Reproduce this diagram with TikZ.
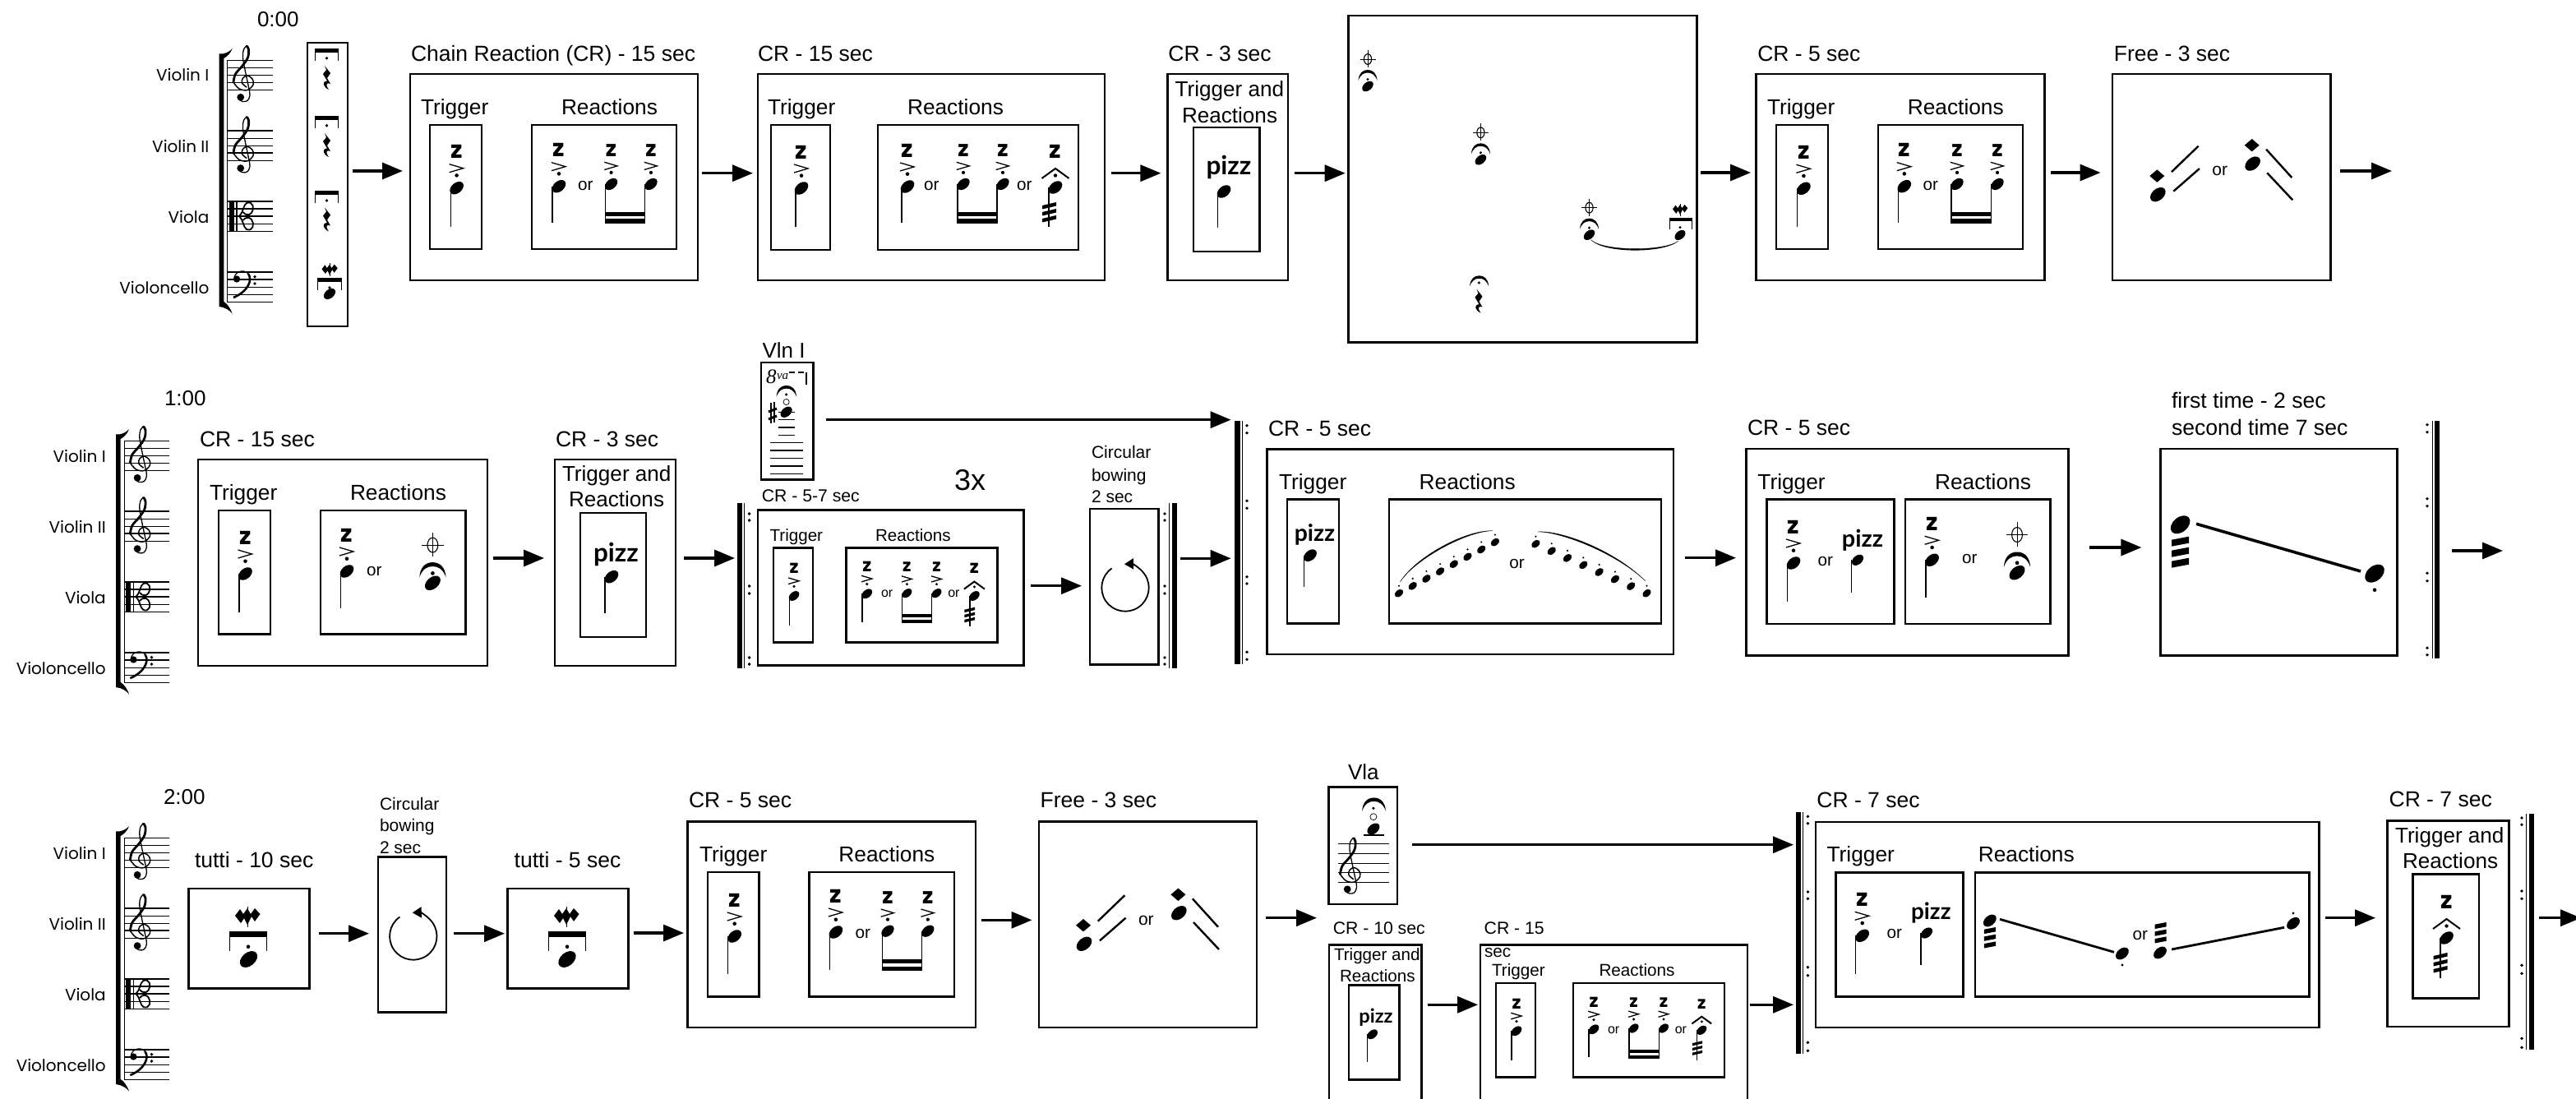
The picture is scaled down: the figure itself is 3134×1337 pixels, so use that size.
\documentclass[tikz,border=0pt]{standalone}
\usepackage{fontspec}
\setmainfont{Liberation Sans}
\newfontfamily\popf{Poppins}
\newfontfamily\popm{Lato}
\newfontfamily\serf{Liberation Serif}
\usetikzlibrary{arrows.meta}
\newcounter{gc}
\tikzset{
  bxs/.style={draw=black,line width=2.8pt,inner sep=0pt,outer sep=0pt,anchor=north west},
  arr/.style={draw=black,line width=3.2pt,-{Triangle[length=25pt,width=20pt]}},
  lblst/.style={anchor=base west,inner sep=0pt,outer sep=0pt,text=black},
  zfnt/.style={inner sep=0pt,outer sep=0pt,font=\popf\fontsize{29}{29}\selectfont\bfseries},
  stemln/.style={line width=1.2pt},
  accln/.style={line width=1.3pt},
  staffln/.style={line width=1.2pt},
  thinln/.style={line width=.8pt},
  freeln/.style={line width=2.4pt},
  gliss/.style={line width=3.6pt}
}
% text label: x, baseline y, size, text
\newcommand\mLbl[4]{\stepcounter{gc}\node[lblst,font=\fontsize{#3}{#3}\selectfont] (t\arabic{gc}) at (#1,#2) {#4};}
\newcommand\mOr[3]{\mLbl{#1}{#2}{#3}{or}}
% box: name x1 y1 x2 y2
\newcommand\mBx[5]{\pgfmathsetmacro{\mybw}{#4-#2}\pgfmathsetmacro{\mybh}{#5-#3}%
  \node[bxs,minimum width=\mybw pt,minimum height=\mybh pt] (#1) at (#2,#3) {};}
% connector: a b y gap1 gap2
\newcommand\mConn[5]{\draw[arr,shorten <=#4pt,shorten >=#5pt] (#1.east |- 0,#3) -- (#2.west |- 0,#3);}
% note head
\newcommand\mHd[3]{\fill[rotate around={40:(#1,#2)}] (#1,#2) ellipse [x radius=9.5*#3, y radius=6.3*#3];}
% dot accent z
\newcommand\mZac[3]{\begin{scope}[shift={(#1,#2)},scale=#3]
  \fill (0,-15.3) circle (2.3);
  \draw[accln] (-9,-29)--(8,-24)--(-9,-19);
  \stepcounter{gc}\node[zfnt,transform shape] (g\arabic{gc}) at (0,-44) {z};
\end{scope}}
% head + z (no stem): x y s
\newcommand\mZh[3]{\mHd{#1}{#2}{#3}\mZac{#1}{#2}{#3}}
% with stem: x y s stemx endy
\newcommand\mZn[5]{\mZh{#1}{#2}{#3}\draw[stemln] (#4,#2) -- (#4,#5);}
% pizz note: x y s stemx endy textcx base size
\newcommand\mPz[8]{\mHd{#1}{#2}{#3}\draw[stemln] (#4,#2) -- (#4,#5);
  \stepcounter{gc}\node[anchor=base,inner sep=0pt,scale=1.05,font=\popm\fontsize{#8}{#8}\selectfont\bfseries] (p\arabic{gc}) at (#6,#7) {pizz};}
% beams: x1 x2 y1 y2
\newcommand\mBeam[4]{\pgfmathsetmacro{\myha}{#3+(#4-#3)*.4}\pgfmathsetmacro{\myhb}{#3+(#4-#3)*.62}%
  \fill (#1-.6,#3) rectangle (#2+.6,\myha); \fill (#1-.6,\myhb) rectangle (#2+.6,#4);}
% fermata: cx bottom y s
\newcommand\mFerm[3]{\begin{scope}[shift={(#1,#2)},scale=#3]
  \fill (-11.5,0) .. controls (-11,-9) and (-6,-13) .. (0,-13) .. controls (6,-13) and (11,-9) .. (11.5,0)
     .. controls (9,-7) and (5,-9.5) .. (0,-9.5) .. controls (-5,-9.5) and (-9,-7) .. (-11.5,0) -- cycle;
\end{scope}}
% phi note: x y s
\newcommand\mPhi[3]{\begin{scope}[shift={(#1,#2)},scale=#3]
  \fill[rotate=40] (0,0) ellipse [x radius=7.8, y radius=5];
  \fill (0,-8.5) circle (1.7);
  \draw[line width=1.1pt] (0,-33) ellipse [x radius=4.6, y radius=6.4];
  \draw[thinln] (0,-44) -- (0,-23) (-9.5,-33) -- (9.5,-33);
\end{scope}\mFerm{#1}{#2-7}{#3}}
% tremolo note with roof accent: x y s stemx endy
\newcommand\mTr[5]{\mHd{#1}{#2}{#3}\draw[stemln] (#4,#2) -- (#4,#5);
  \begin{scope}[shift={(#1,#2)},scale=#3]
  \fill (0,-14.5) circle (2.2);
  \draw[line width=2pt] (-16.5,-11) -- (0,-23) -- (16.5,-11);
  \stepcounter{gc}\node[zfnt,transform shape] (g\arabic{gc}) at (0,-44) {z};
  \foreach \myv in {18,26,34}{\fill (-16,\myv+4) -- (1,\myv) -- (1,\myv+4.5) -- (-16,\myv+8.5) -- cycle;}
  \end{scope}}
% three thick slashes: cx top s
\newcommand\mSlash[3]{\begin{scope}[shift={(#1,#2)},scale=#3]
  \foreach \myv in {0,13,26}{\fill (-10.5,\myv+4) -- (10.5,\myv) -- (10.5,\myv+8) -- (-10.5,\myv+12) -- cycle;}
\end{scope}}
% bar with legs: cx top s
\newcommand\mBar[3]{\begin{scope}[shift={(#1,#2)},scale=#3]
  \fill (-22.5,0) rectangle (22.5,7.3);
  \draw[line width=.9pt] (-22.5,0) -- (-22.5,24) (22.5,0) -- (22.5,24);
\end{scope}}
% jagged sign: cx cy s
\newcommand\mJag[3]{\begin{scope}[shift={(#1,#2)},scale=#3]
  \fill (-15,-1) -- (-9,-9) -- (-5,-3) -- (0,-10) -- (4,-3) -- (9,-10) -- (15.5,-3) -- (9,6) -- (5,0) -- (0,10) -- (-4,2) -- (-8,8) -- cycle;
  \draw[thinln] (0,-12) -- (0,13);
\end{scope}}
% rest: cx top
\newcommand\mRest[2]{\begin{scope}[shift={(#1,#2)}]
  \fill (-2,0) -- (5,9) -- (1,15) -- (5,22) .. controls (1,20) and (-2,22) .. (3,29)
     .. controls (-4,26) and (-6,19) .. (1,18.5) -- (-4,10) -- (0,5) -- cycle;
\end{scope}}
% slur
\newcommand\mSlur[8]{\fill (#1,#2) .. controls (#3,#4) and (#5,#6) .. (#7,#8) .. controls (#5,#6+2.6) and (#3,#4+2.6) .. (#1,#2) -- cycle;
  \draw[line width=.4pt] (#1,#2) .. controls (#3,#4) and (#5,#6) .. (#7,#8);}
% circular bowing: cx cy
\newcommand\mCirc[2]{\draw[line width=1.8pt,-{Triangle[length=11pt,width=13pt]}] ([shift={(125:28.7pt)}]#1,#2) arc [start angle=125,end angle=452,radius=28.7pt];}
% repeat bars: name thickx1 thickx2 y1 y2
\newcommand\mRb[5]{\pgfmathsetmacro{\mybw}{#3-#2}\pgfmathsetmacro{\mybh}{#5-#4}%
  \node[fill=black,inner sep=0pt,outer sep=0pt,anchor=north west,minimum width=\mybw pt,minimum height=\mybh pt] (#1) at (#2,#4) {};}
\newcommand\mThin[3]{\draw[line width=1.2pt] (#1,#2) -- (#1,#3);}
\newcommand\mDots[2]{\foreach \myv in {#2}{\fill (#1,\myv) circle (1.9);}}
% treble clef in row-1 coordinates, shifted
\newcommand\mTreb[2]{\begin{scope}[shift={(#1+130,#2+50)}]
  \draw[line width=1.5pt,line cap=round] plot[smooth,tension=.6] coordinates {(170,56)(164.5,51)(165.5,45)(171,42)(177,46)(178,53)(171,59.5)(161,58)(154,50)};
  \draw[line width=2.8pt,line cap=round] plot[smooth,tension=.6] coordinates {(154,50)(156.5,40)(165,30)(171.5,20)(172.5,10)(170,6)};
  \draw[line width=1.3pt,line cap=round] plot[smooth,tension=.6] coordinates {(170,6)(166.5,10)(165.5,20)(168.5,37)(172.5,56)(174,66)(171,72.5)(165,73.5)(161,71)};
  \fill (162.7,68.3) circle (4.4);
\end{scope}}
\newcommand\mStaff[4]{\foreach \myv in {#3}{\draw[staffln] (#1,\myv) -- (#2,\myv);}}
% whole system: dx dy
\newcommand\mSys[2]{\begin{scope}[shift={(#1,#2)}]
  \fill (266.7,65.5) .. controls (274,66) and (279,63) .. (282.7,59) .. controls (280.5,65) and (276,69) .. (272.3,71)
     -- (272.3,367) .. controls (276,369) and (280.5,375) .. (282.7,381.7) .. controls (279,377) and (274,374) .. (266.7,373) -- cycle;
  \draw[staffln] (276.7,73) -- (276.7,368);
  \mStaff{276.7}{332}{73.3,82.7,91.7,100.7,109.3}{}
  \mStaff{276.7}{332}{159,168.3,177.3,186,195.3}{}
  \mStaff{276.7}{332}{245,254,263,272.7,281.7}{}
  \mStaff{276.7}{332}{331,340,349.3,358.3,367.7}{}
  \mTreb{0}{0}
  \mTreb{0}{86.3}
  % alto clef
  \fill (278.5,245) rectangle (284.5,281.7);
  \draw[line width=1.4pt] (288,245) -- (288,281.7);
  \draw[line width=1.8pt] (291,263) .. controls (296,259) and (296,249) .. (300,247) .. controls (308,244) and (310,254) .. (306,259) .. controls (303,263) and (297,261) .. (296,258);
  \draw[line width=1.8pt] (291,263) .. controls (296,267) and (296,277) .. (300,279) .. controls (308,282) and (310,272) .. (306,267) .. controls (303,263) and (297,265) .. (296,268);
  % bass clef
  \fill (288,339.5) circle (4.2);
  \draw[line width=1.2pt] (285,339) .. controls (285,330) and (297,327) .. (302,333);
  \draw[line width=2.6pt] (302,333) .. controls (308,341) and (301,355) .. (284,362);
  \fill (310,336.7) circle (1.9) (310,345) circle (1.9);
  \stepcounter{gc}\node[anchor=base east,inner sep=0pt,font=\popf\fontsize{20}{20}\selectfont] (s\arabic{gc}) at (254.5,99) {Violin I};
  \stepcounter{gc}\node[anchor=base east,inner sep=0pt,font=\popf\fontsize{20}{20}\selectfont] (s\arabic{gc}) at (254.5,185.7) {Violin II};
  \stepcounter{gc}\node[anchor=base east,inner sep=0pt,font=\popf\fontsize{20}{20}\selectfont] (s\arabic{gc}) at (254.5,271.7) {Viola};
  \stepcounter{gc}\node[anchor=base east,inner sep=0pt,font=\popf\fontsize{20}{20}\selectfont] (s\arabic{gc}) at (254.5,357.7) {Violoncello};
\end{scope}}
% Free group, coordinates of row 3
\newcommand\mFree[2]{\begin{scope}[shift={(#1,#2)}]
  \mHd{1319}{1148.3}{1.12}
  \fill (1309,1125.7) -- (1318,1118) -- (1327,1125.7) -- (1318,1133.4) -- cycle;
  \draw[freeln] (1335.7,1120.7) -- (1368.3,1089.3);
  \draw[freeln] (1338,1144.3) -- (1369.6,1116.7);
  \mOr{1385}{1125}{21}
  \mHd{1434.3}{1110.7}{1.12}
  \fill (1424.4,1088.3) -- (1433.4,1080.6) -- (1442.4,1088.3) -- (1433.4,1096) -- cycle;
  \draw[freeln] (1450.8,1093.3) -- (1482,1127.7);
  \draw[freeln] (1452,1122) -- (1483,1155);
\end{scope}}
\begin{document}
\begin{tikzpicture}[x=1pt,y=-1pt]
\useasboundingbox (0,0) rectangle (3134,1337);
\clip (0,0) rectangle (3134,1337);
\fill[white] (0,0) rectangle (3134,1337);
%% ROW 1
\mSys{0}{0}
\mLbl{313}{33}{26}{0:00}
\mBx{strip}{374}{52}{423}{397}
\mBar{397.5}{59}{.63}\fill (397.5,70.7) circle (1.9); \mRest{397}{80}
\mBar{397.5}{141.3}{.63}\fill (397.5,152.7) circle (1.9); \mRest{397}{162}
\mBar{397.5}{232.3}{.63}\fill (397.5,244) circle (1.9); \mRest{397}{252.5}
\mJag{401}{328}{.63}\mBar{401}{338}{.63}\fill (401,350) circle (1.9); \mHd{401}{357.5}{.85}
\mBx{crA}{499}{90}{849}{341}
\mBx{crAt}{523}{152}{586}{303}
\mBx{crAr}{647}{152}{823}{303}
\mLbl{500}{75}{26.5}{Chain Reaction (CR) - 15 sec}
\mLbl{512}{139.5}{26.3}{Trigger}
\mLbl{683}{139.5}{26.3}{Reactions}
\mZn{555.6}{228.7}{1}{548.8}{276}
\mZn{680}{226.7}{1}{672}{271}
\mOr{703}{231.7}{20.7}
\mZn{743.6}{224}{.92}{736.5}{271.7}
\mZn{792}{224}{.92}{784.4}{271.7}
\mBeam{736.5}{784.4}{257.7}{271.7}
\mBx{crB}{922}{90}{1344}{341}
\mBx{crBt}{938}{152}{1010}{304}
\mBx{crBr}{1068}{152}{1312}{304}
\mLbl{922}{75}{26.5}{CR - 15 sec}
\mLbl{934}{139.5}{26.3}{Trigger}
\mLbl{1104}{139.5}{26.3}{Reactions}
\mZn{975}{229}{1}{968}{276}
\mZn{1104}{227}{1}{1097}{271}
\mOr{1124}{232}{20.7}
\mZn{1172}{224}{.92}{1165}{271.7}
\mZn{1220}{224}{.92}{1213}{271.7}
\mBeam{1165}{1213}{257.7}{271.7}
\mOr{1237}{232}{20.7}
\mTr{1284}{228}{1}{1276}{276}
\mBx{crC}{1420.4}{90}{1567}{341}
\mBx{crCi}{1452}{155}{1532.6}{306}
\mLbl{1421.4}{75}{26.5}{CR - 3 sec}
\mLbl{1429.6}{118}{26.1}{Trigger and}
\mLbl{1438}{150}{26.1}{Reactions}
\mPz{1489}{233}{1}{1481.6}{277}{1495}{213}{30}
\mBx{big}{1640.7}{19}{2064.5}{416.7}
\mPhi{1664}{105}{1}
\mPhi{1801.4}{194.3}{1}
\mPhi{1933.5}{285.7}{1}
\mJag{2044}{255}{.6}\mBar{2044.5}{265}{.6}\fill (2044,276.7) circle (1.7); \mHd{2044}{286}{.78}
\mSlur{1935.5}{291.7}{1950}{306}{2025}{306}{2041.6}{293.3}
\mFerm{1799.6}{348.3}{1}\fill (1799.3,344) circle (1.7); \mRest{1798.5}{351.7}
\mBx{crD}{2136.7}{90}{2487.6}{341}
\mBx{crDt}{2161}{152}{2224}{303}
\mBx{crDr}{2285}{152}{2461}{303}
\mLbl{2138.3}{75}{26.5}{CR - 5 sec}
\mLbl{2150}{139.5}{26.3}{Trigger}
\mLbl{2320.8}{139.5}{26.3}{Reactions}
\mZn{2194.4}{229.3}{1}{2186.7}{276}
\mZn{2316.8}{226.7}{1}{2309.6}{271}
\mOr{2339.7}{231.7}{20.7}
\mZn{2381}{224}{.92}{2373.9}{271.7}
\mZn{2430}{224}{.92}{2422.3}{271.7}
\mBeam{2373.9}{2422.3}{257.7}{271.7}
\mBx{freeA}{2570}{90}{2835.4}{341}
\mLbl{2571.8}{75}{26.5}{Free - 3 sec}
\mFree{1306.3}{-911.6}
\coordinate (endA) at (2910,208);
\mConn{strip}{crA}{208}{6}{9}
\mConn{crA}{crB}{210.7}{5}{6}
\mConn{crB}{crC}{210.7}{8}{8}
\mConn{crC}{big}{210.7}{8}{4}
\mConn{big}{crD}{210}{4.5}{6.7}
\mConn{crD}{freeA}{210}{7.4}{14.5}
\draw[arr,shorten <=11.6pt] (freeA.east |- endA) -- (endA);
%% ROW 2
\mSys{-125.6}{463}
\mLbl{200}{493}{26}{1:00}
\mBx{rtA}{241}{559}{593}{810}
\mBx{rtAt}{266}{621}{329}{771.7}
\mBx{rtAr}{390}{621}{566.5}{771.7}
\mLbl{243}{543}{26.5}{CR - 15 sec}
\mLbl{255}{608}{26.3}{Trigger}
\mLbl{426}{608}{26.3}{Reactions}
\mZn{298.5}{698}{1}{291}{745}
\mZn{422}{695}{1}{414.4}{740}
\mOr{446}{700}{20.7}
\mPhi{526.4}{709.3}{1.4}
\mBx{rtB}{675}{559}{822}{810}
\mBx{rtBi}{706}{624}{786}{775}
\mLbl{676}{543}{26.5}{CR - 3 sec}
\mLbl{684}{585}{26.1}{Trigger and}
\mLbl{692}{616.7}{26.1}{Reactions}
\mPz{744}{701.7}{1}{736}{746}{749.5}{683}{30}
\mRb{barA}{897}{903}{612}{813}
\mThin{905.5}{612}{813}
\mDots{911.6}{625,633,713,722,800,808}
\mBx{vln}{925.9}{441}{989.2}{583.3}
\mLbl{927.6}{435}{26}{Vln I}
\stepcounter{gc}\node[lblst,font=\serf\fontsize{25}{25}\selectfont\itshape] (v\arabic{gc}) at (932,466.7) {8};
\stepcounter{gc}\node[lblst,font=\serf\fontsize{15}{15}\selectfont\itshape] (v\arabic{gc}) at (945,461) {va};
\draw[line width=2pt] (960,453) -- (966.5,453) (971,453) -- (977.5,453);
\draw[line width=1.6pt] (981,453) -- (981,467.7);
\mFerm{956.8}{482.7}{1.06}\fill (956.6,480) circle (1.7);
\draw[line width=.7pt] (956.6,489) circle (3.6);
\mHd{956.6}{501.3}{.85}
\draw[line width=1.4pt] (938,490) -- (938,515) (941.8,489) -- (941.8,514);
\draw[line width=3pt] (935,501) -- (945,497) (935,510) -- (945,506);
\draw[staffln] (947,501.3) -- (967,501.3);
\mStaff{946.8}{966.9}{510.7,520,529.3}{}
\mStaff{936.6}{976.7}{538.3,548,557.7,567,576.7}{}
\mBx{rtC}{922}{620.7}{1245.6}{809.3}
\mBx{rtCt}{941}{666.7}{989}{781.7}
\mBx{rtCr}{1029.8}{666.7}{1213.5}{781.7}
\mLbl{926.8}{610}{21.2}{CR - 5-7 sec}
\mLbl{1161}{596.7}{36}{3x}
\mLbl{936.6}{658.3}{20.6}{Trigger}
\mLbl{1065}{658.3}{20.6}{Reactions}
\mZn{966}{725}{.76}{960.2}{760.7}
\mZn{1054.8}{722.3}{.76}{1049}{757}
\mOr{1072}{726.7}{16}
\mZn{1103.4}{721.7}{.72}{1097.6}{757.7}
\mZn{1139.5}{721.7}{.72}{1133.7}{757.7}
\mBeam{1097.6}{1133.7}{747}{757.7}
\mOr{1153.3}{726.7}{16}
\mTr{1185.4}{725}{.76}{1180}{761.7}
\mBx{rtD}{1326}{619}{1409.3}{808.3}
\mLbl{1328}{557.3}{21}{Circular}
\mLbl{1328}{585}{21}{bowing}
\mLbl{1328}{611.7}{21}{2 sec}
\mCirc{1369}{715}
\mThin{1422.7}{612}{813}
\mRb{barB}{1426}{1432}{612}{813}
\mDots{1417}{625,633,713,722,800,808}
\mRb{barC}{1502}{1509}{512}{807.7}
\mThin{1511.5}{512}{807.7}
\mDots{1517}{517.7,526.7,609.3,618.3,701.7,710,793.3,802.3}
\mBx{rtE}{1541.8}{546.7}{2036}{796}
\mBx{rtEt}{1566}{607.7}{1629}{758.3}
\mBx{rtEr}{1690}{607.7}{2021}{758.3}
\mLbl{1543}{530}{26.5}{CR - 5 sec}
\mLbl{1556}{595}{26.3}{Trigger}
\mLbl{1726.7}{595}{26.3}{Reactions}
\mPz{1594}{675.7}{.95}{1586.8}{714}{1599.5}{658}{27}
\foreach \myi in {0,...,7}{
  \pgfmathsetmacro{\myx}{1702+16.7*\myi}\pgfmathsetmacro{\myy}{721.7-8.87*\myi}
  \mHd{\myx}{\myy}{.62}\fill (\myx,\myy-9) circle (1.2);
  \pgfmathsetmacro{\myx}{1868.4+19.3*\myi}\pgfmathsetmacro{\myy}{661.7+8.57*\myi}
  \mHd{\myx}{\myy}{.62}\fill (\myx,\myy-9) circle (1.2);
}
\mSlur{1703.5}{708}{1720}{680}{1780}{645}{1816}{645.7}
\mOr{1836.3}{691}{20.7}
\mSlur{1871}{647}{1900}{645}{1965}{670}{2001.6}{706.7}
\mBx{rtF}{2124.6}{546}{2516.4}{797.3}
\mBx{rtFt}{2149.5}{607.3}{2304.3}{759}
\mBx{rtFr}{2318}{607.3}{2494.3}{759}
\mLbl{2126}{529}{26.5}{CR - 5 sec}
\mLbl{2138.4}{595}{26.3}{Trigger}
\mLbl{2354}{595}{26.3}{Reactions}
\mZn{2182}{685}{1}{2174.4}{731.7}
\mOr{2211.7}{688}{20.7}
\mPz{2260}{681.3}{.85}{2252.5}{720.7}{2266}{665}{27.5}
\mZn{2350.6}{681.3}{1}{2343}{727.3}
\mOr{2387}{685}{20.7}
\mPhi{2454}{696.7}{1.4}
\mBx{rtG}{2628.4}{546}{2916.5}{797.3}
\mLbl{2642}{496.7}{26.6}{first time - 2 sec}
\mLbl{2642}{529}{26.6}{second time 7 sec}
\mHd{2652.6}{638.3}{1.42}
\mSlash{2652.6}{652.7}{1}
\draw[gliss] (2672,637.3) -- (2872,695);
\mHd{2889}{697.7}{1.42}
\fill (2889,717.7) circle (2.3);
\mDots{2953}{516.7,525.7,606.7,615.7,697.3,706.7,788.3,796.7}
\mThin{2959.4}{512.3}{800.7}
\mRb{barD}{2962}{2968}{512.3}{800.7}
\coordinate (endB) at (3045,670);
\mConn{rtA}{rtB}{679}{7}{13}
\mConn{rtB}{barA}{679}{10}{3}
\mConn{rtC}{rtD}{712.7}{8}{10}
\mConn{barB}{barC}{679.3}{4.4}{4.4}
\mConn{vln}{barC}{510.7}{15.6}{4.4}
\mConn{rtE}{rtF}{678.7}{14}{12.6}
\mConn{rtF}{rtG}{666}{26}{23}
\draw[arr,shorten <=15pt] (barD.east |- endB) -- (endB);
%% ROW 3
\mSys{-125.6}{946}
\mLbl{199}{978}{26}{2:00}
\mBx{thA}{229.6}{1081}{376.5}{1202.7}
\mLbl{237}{1055}{26.5}{tutti - 10 sec}
\mJag{301}{1115}{1}\mBar{302}{1132.7}{1}\fill (302,1151.7) circle (2.3); \mHd{302.5}{1167}{1.28}
\mBx{thB}{460}{1042.7}{543}{1231.7}
\mLbl{462}{985}{21}{Circular}
\mLbl{462}{1011.7}{21}{bowing}
\mLbl{462}{1038}{21}{2 sec}
\mCirc{502.8}{1139}
\mBx{thC}{617.6}{1081}{764.6}{1202.7}
\mLbl{625.7}{1055}{26.5}{tutti - 5 sec}
\mJag{689}{1115}{1}\mBar{690}{1132.7}{1}\fill (690,1151.7) circle (2.3); \mHd{690}{1167}{1.28}
\mBx{thD}{836.3}{999.3}{1187}{1250}
\mBx{thDt}{861}{1061}{923.6}{1212.3}
\mBx{thDr}{984.3}{1061}{1161}{1212.3}
\mLbl{838}{982.7}{26.5}{CR - 5 sec}
\mLbl{851}{1048.3}{26.3}{Trigger}
\mLbl{1020.4}{1048.3}{26.3}{Reactions}
\mZn{893.7}{1139}{1}{885.7}{1185}
\mZn{1016.9}{1134}{1}{1009.7}{1180}
\mOr{1040.5}{1141}{20.7}
\mZn{1080}{1132.7}{.92}{1073.5}{1181}
\mZn{1128.8}{1132.7}{.92}{1121.7}{1181}
\mBeam{1073.5}{1121.7}{1166.7}{1181}
\mBx{thE}{1264}{999.3}{1528.9}{1250}
\mLbl{1265.7}{982.7}{26.5}{Free - 3 sec}
\mFree{0}{0}
\coordinate (endC) at (1602,1116.7);
\mBx{vla}{1616.5}{957.7}{1700}{1100}
\mLbl{1640}{948.3}{26}{Vla}
\mFerm{1671.5}{986.7}{1.25}\fill (1670.9,983.3) circle (1.8);
\draw[line width=.7pt] (1670.9,993.7) circle (4);
\mHd{1670.9}{1008.5}{.9}
\draw[line width=1.8pt] (1658.6,1015.7) -- (1684,1015.7);
\mStaff{1627.6}{1690}{1026.7,1038.7,1050.3,1061.7,1073.7}{}
\mTreb{1346.5}{963.5}
\mBx{thF}{1617}{1149.3}{1729.5}{1360}
\mBx{thFi}{1641}{1198.3}{1702.6}{1313.3}
\mLbl{1621.8}{1136.7}{21.2}{CR - 10 sec}
\mLbl{1623}{1168.3}{20.6}{Trigger and}
\mLbl{1630}{1194}{20.6}{Reactions}
\mPz{1669.7}{1258.3}{.76}{1663.6}{1291.7}{1674}{1244}{22.5}
\mBx{thG}{1801}{1149.3}{2125.9}{1360}
\mBx{thGt}{1820}{1196}{1868}{1310.7}
\mBx{thGr}{1914}{1196}{2098}{1310.7}
\mLbl{1805.7}{1136.7}{21.2}{CR - 15}
\mLbl{1806}{1164.3}{20.7}{sec}
\mLbl{1815}{1187.7}{20.7}{Trigger}
\mLbl{1945.5}{1187.7}{20.7}{Reactions}
\mZn{1845}{1254.3}{.76}{1839}{1290}
\mZn{1939}{1252.3}{.76}{1933}{1286}
\mOr{1956}{1257.3}{16}
\mZn{1987.6}{1251}{.72}{1981.9}{1287.7}
\mZn{2024}{1251}{.72}{2018.6}{1287.7}
\mBeam{1981.9}{2018.6}{1276.7}{1287.7}
\mOr{2037.8}{1257.3}{16}
\mTr{2070.3}{1253.3}{.72}{2064.6}{1290}
\mRb{barE}{2185}{2190.5}{988.3}{1282.3}
\mThin{2193.6}{988.3}{1282.3}
\mDots{2199.4}{993.3,1001.7,1085,1093.3,1176.7,1186.7,1268.3,1278.3}
\mBx{thH}{2209}{1000}{2821.6}{1250}
\mBx{thHt}{2233.5}{1061.7}{2388.5}{1212.3}
\mBx{thHr}{2403}{1061.7}{2809.3}{1212.3}
\mLbl{2210.4}{982.7}{26.5}{CR - 7 sec}
\mLbl{2222.6}{1048.3}{26.3}{Trigger}
\mLbl{2406.8}{1048.3}{26.3}{Reactions}
\mZn{2265.7}{1138.3}{1}{2257.8}{1185}
\mOr{2295.5}{1141}{20.7}
\mPz{2344}{1135}{.85}{2336.9}{1174}{2349.3}{1118.3}{26.5}
\mHd{2420.8}{1120}{.95}
\mSlash{2421}{1128}{.67}
\draw[line width=2.8pt] (2433,1118.3) -- (2572,1158.3);
\mHd{2581.9}{1160}{.95}\fill (2582,1174) circle (1.7);
\mOr{2594.7}{1143.3}{20.7}
\mHd{2628}{1159}{.95}
\mSlash{2628.5}{1122}{.67}
\draw[line width=2.8pt] (2642,1155) -- (2779,1128.3);
\mHd{2790}{1123.3}{.95}\fill (2790,1111) circle (1.7);
\mBx{thI}{2904.7}{998.3}{3052.5}{1249}
\mBx{thIi}{2935.7}{1063.3}{3016}{1214.3}
\mLbl{2906.6}{981.7}{26.5}{CR - 7 sec}
\mLbl{2914}{1025}{26.1}{Trigger and}
\mLbl{2923}{1056.7}{26.1}{Reactions}
\mTr{2976.5}{1141}{1}{2969}{1190}
\mDots{3068}{995,1003.3,1084,1093.3,1174.3,1184.3,1263.3,1274.3}
\mThin{3073.8}{990}{1277.3}
\mRb{barF}{3077}{3083}{990}{1277.3}
\coordinate (endD) at (3140,1116.7);
\mConn{thA}{thB}{1135.7}{11}{11}
\mConn{thB}{thC}{1135.7}{9}{3.6}
\mConn{thC}{thD}{1135}{6.4}{4.3}
\mConn{thD}{thE}{1119.3}{6.5}{8.5}
\draw[arr,shorten <=11pt] (thE.east |- endC) -- (endC);
\mConn{vla}{barE}{1027.7}{18}{3}
\mConn{thF}{thG}{1222.3}{7}{3}
\mConn{thG}{barE}{1222.3}{2.6}{3}
\mConn{thH}{thI}{1116.7}{7.4}{14.7}
\draw[arr,shorten <=6pt] (barF.east |- endD) -- (endD);
\end{tikzpicture}
\end{document}
